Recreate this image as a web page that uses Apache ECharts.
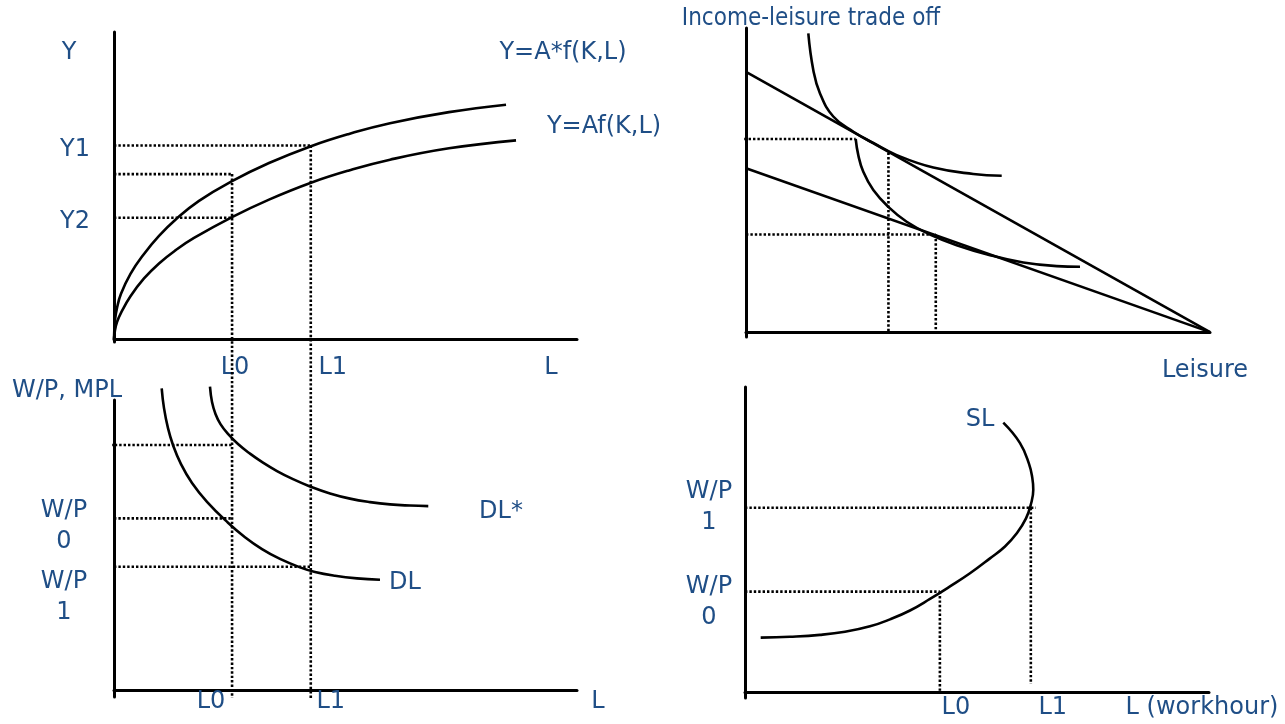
<!DOCTYPE html>
<html>
<head>
<meta charset="utf-8">
<script src="https://cdn.jsdelivr.net/npm/echarts@6/dist/echarts.min.js"></script>
<style>
  html, body { margin: 0; padding: 0; background: #ffffff; }
  #chart { width: 1285px; height: 724px; }
</style>
</head>
<body>
<div id="chart"></div>
<script>
// ---------- Panel 1: production function ----------
const L0 = 2.55, L1 = 4.25;            // labour levels
const Y1 = 6.3, Y2 = 3.95;             // output levels
const yMid = 5.37;                     // unlabelled output level above L0
const prodShifted = [[0, 0], [0.022, 0.62], [0.065, 1.01], [0.151, 1.47], [0.356, 2.12], [0.648, 2.77], [0.972, 3.36], [1.339, 3.9], [1.836, 4.5], [2.549, 5.14], [3.348, 5.73], [4.255, 6.28], [5.076, 6.68], [5.961, 7.03], [7.235, 7.39], [8.467, 7.63]];
const prodBase = [[0, 0], [0.022, 0.29], [0.065, 0.55], [0.151, 0.85], [0.356, 1.39], [0.648, 1.97], [0.972, 2.46], [1.339, 2.9], [1.728, 3.29], [2.549, 3.97], [3.348, 4.54], [4.255, 5.09], [5.076, 5.49], [5.961, 5.84], [7.235, 6.21], [8.683, 6.47]];

// ---------- Panel 2: income-leisure trade off ----------
const budgetHigh = [[0, 8.56], [10, 0]];
const budgetLow = [[0, 5.39], [10, 0]];
const indiffHigh = [[1.343, 9.82], [1.45, 8.62], [1.595, 7.85], [1.881, 7.09], [2.313, 6.59], [2.744, 6.22], [3.248, 5.82], [4.037, 5.41], [4.899, 5.2], [5.511, 5.14]];
const indiffLow = [[2.364, 6.35], [2.42, 5.82], [2.528, 5.27], [2.744, 4.67], [3.067, 4.12], [3.463, 3.63], [3.966, 3.21], [4.541, 2.86], [5.259, 2.53], [5.976, 2.29], [6.696, 2.17], [7.198, 2.15]];
const leisure0 = 3.07, leisure1 = 4.09;     // chosen leisure
const income0 = 6.35, income1 = 3.21;       // income levels
const tangentHigh = 5.9;                    // budget line height at leisure0

// ---------- Panel 3: labour demand ----------
const wpTop = 8.45, WP0 = 5.92, WP1 = 4.25;
const demand = [[1.03, 10.4], [1.08, 9.72], [1.166, 9.03], [1.274, 8.45], [1.447, 7.79], [1.685, 7.14], [2.009, 6.49], [2.462, 5.77], [2.829, 5.27], [3.197, 4.86], [3.585, 4.52], [4.017, 4.23], [4.341, 4.07], [4.773, 3.94], [5.248, 3.85], [5.745, 3.8]];
const demandShifted = [[2.073, 10.46], [2.117, 9.93], [2.192, 9.52], [2.3, 9.17], [2.462, 8.83], [2.678, 8.48], [2.937, 8.15], [3.218, 7.84], [3.521, 7.55], [3.866, 7.27], [4.233, 7.02], [4.665, 6.78], [5.097, 6.6], [5.529, 6.48], [5.961, 6.4], [6.393, 6.36], [6.788, 6.34]];

// ---------- Panel 4: labour supply ----------
const sL0 = 4.2, sL1 = 6.16;
const sWP0 = 3.29, sWP1 = 6.04;
const supply = [[0.338, 1.78], [0.97, 1.81], [1.616, 1.87], [2.155, 1.97], [2.694, 2.15], [3.125, 2.38], [3.556, 2.67], [3.987, 3.05], [4.418, 3.46], [4.849, 3.89], [5.28, 4.38], [5.603, 4.77], [5.862, 5.21], [6.056, 5.69], [6.164, 6.17], [6.213, 6.63], [6.192, 7.02], [6.121, 7.48], [5.927, 8.16], [5.567, 8.83]];

// ---------- layout & style ----------
const FONT = '"DejaVu Sans", Verdana, sans-serif';
const TEXT = '#1F4E86';
const grids = [
  { left: 114, top: 32,  width: 463, height: 310, yMin: -0.1 },
  { left: 746, top: 28,  width: 464, height: 309, yMin: -0.16 },
  { left: 114, top: 400, width: 463, height: 297, yMin: -0.24 },
  { left: 745, top: 387, width: 464, height: 311, yMin: -0.2 }
];
const pxX = g => grids[g].width / 10;
const pxY = g => grids[g].height / (10 - grids[g].yMin);
// the L0 / L1 guides of panel 1 run down through panel 3
const zeroA = grids[0].top + 10 * pxY(0);
const dropA = -(698 - zeroA) / pxY(0);
const overB = -15 / pxX(1);
const overC = -8 / pxX(2);
const overD = 5 / pxX(3);

function curve(data, g) {
  return {
    type: 'line', xAxisIndex: g, yAxisIndex: g, data,
    symbol: 'none', smooth: 0.45, clip: false, silent: true,
    lineStyle: { color: '#000', width: 2.6 }
  };
}
function dotted(data, g) {
  return {
    type: 'line', xAxisIndex: g, yAxisIndex: g, data,
    symbol: 'none', clip: false, silent: true,
    lineStyle: { color: '#000', width: 2.6, type: [2.4, 2] }
  };
}
function tags(items, g) {
  return {
    type: 'scatter', xAxisIndex: g, yAxisIndex: g, symbolSize: 0, clip: false, silent: true,
    itemStyle: { opacity: 1 },
    data: items.map(([name, value, offset]) => ({ name, value, label: { offset } })),
    label: {
      show: true, position: 'inside', formatter: '{b}', opacity: 1,
      fontFamily: FONT, fontSize: 24, color: TEXT, lineHeight: 31
    }
  };
}

const series = [
  // panel 1
  curve(prodShifted, 0),
  curve(prodBase, 0),
  dotted([[0, Y1], [L1, Y1]], 0),
  dotted([[0, yMid], [L0, yMid]], 0),
  dotted([[0, Y2], [L0, Y2]], 0),
  dotted([[L0, yMid], [L0, dropA]], 0),
  dotted([[L1, Y1], [L1, dropA]], 0),
  tags([['Y1', [0, Y1], [-39, 4]], ['Y2', [0, Y2], [-39, 4]], ['L0', [L0, 0], [3, 29]], ['L1', [L1, 0], [22, 29]]], 0),
  // panel 2
  curve(budgetHigh, 1),
  curve(budgetLow, 1),
  curve(indiffHigh, 1),
  curve(indiffLow, 1),
  dotted([[overB, income0], [indiffLow[0][0], income0]], 1),
  dotted([[0, income1], [leisure1, income1]], 1),
  dotted([[leisure0, tangentHigh], [leisure0, 0]], 1),
  dotted([[leisure1, income1], [leisure1, 0]], 1),
  // panel 3
  curve(demand, 2),
  curve(demandShifted, 2),
  dotted([[overC, wpTop], [L0, wpTop]], 2),
  dotted([[0, WP0], [L0, WP0]], 2),
  dotted([[0, WP1], [L1, WP1]], 2),
  tags([['W/P\n0', [0, WP0], [-50, 8]], ['W/P\n1', [0, WP1], [-50, 30]], ['L0', [L0, 0], [-21, 12]], ['L1', [L1, 0], [20, 12]]], 2),
  // panel 4
  curve(supply, 3),
  dotted([[0, sWP1], [sL1 + overD, sWP1]], 3),
  dotted([[sL1, sWP1], [sL1, 0.26]], 3),
  dotted([[0, sWP0], [sL0, sWP0]], 3),
  dotted([[sL0, sWP0], [sL0, 0]], 3),
  tags([['W/P\n1', [0, sWP1], [-36, 0]], ['W/P\n0', [0, sWP0], [-36, 11]], ['L0', [sL0, 0], [16, 16]], ['L1', [sL1, 0], [22, 16]]], 3)
];

const axisLine = { show: true, onZero: true, lineStyle: { color: '#000', width: 3 } };
const bare = { axisTick: { show: false }, axisLabel: { show: false }, splitLine: { show: false } };

function text(str, x, y, family) {
  return {
    type: 'text', x, y, silent: true,
    style: { text: str, fill: TEXT, fontSize: 24, fontFamily: family || FONT, align: 'center', verticalAlign: 'middle' }
  };
}

const option = {
  backgroundColor: '#ffffff',
  animation: false,
  grid: grids.map(g => ({ left: g.left, top: g.top, width: g.width, height: g.height, containLabel: false, outerBoundsMode: 'none' })),
  xAxis: grids.map((g, i) => Object.assign({ gridIndex: i, type: 'value', min: 0, max: 10, axisLine }, bare)),
  yAxis: grids.map((g, i) => Object.assign({ gridIndex: i, type: 'value', min: g.yMin, max: 10, axisLine }, bare)),
  series,
  graphic: [
    text('Y', 69, 53),
    text('Y=A*f(K,L)', 563, 53),
    text('Y=Af(K,L)', 604, 127),
    text('L', 551, 368),
    text('Income-leisure trade off', 811, 19, '"DejaVu Sans Condensed", "Liberation Sans Narrow", "DejaVu Sans", sans-serif'),
    text('Leisure', 1205, 371),
    text('W/P, MPL', 67, 391),
    text('DL*', 501, 512),
    text('DL', 405, 583),
    text('L', 598, 702),
    text('SL', 980, 420),
    text('L (workhour)', 1202, 708)
  ]
};

const chart = echarts.init(document.getElementById('chart'), null, { renderer: 'canvas' });
chart.setOption(option);
</script>
</body>
</html>
